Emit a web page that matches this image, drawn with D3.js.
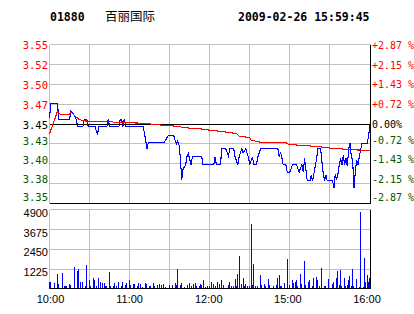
<!DOCTYPE html>
<html><head><meta charset="utf-8">
<script src="https://cdn.jsdelivr.net/npm/d3@7"></script>
<style>html,body{margin:0;padding:0;background:#fff;}svg{display:block;}</style>
</head><body>
<script>
// ---- data ----
const stockCode = "01880";
const stockName = "百丽国际";
const stamp = "2009-02-26 15:59:45";
const prevClose = 3.45;
const pctTicks = [2.87, 2.15, 1.43, 0.72, 0, -0.72, -1.43, -2.15, -2.87];
const priceLabels = ["3.55","3.52","3.50","3.47","3.45","3.43","3.40","3.38","3.35"];
const pctLabels = ["+2.87 %","+2.15 %","+1.43 %","+0.72 %"," 0.00%","-0.72 %","-1.43 %","-2.15 %","-2.87 %"];
const volTicks = [4900, 3675, 2450, 1225];
const timeTicks = [0, 60, 120, 180, 240];
const timeLabels = ["10:00","11:00","12:00","15:00","16:00"];
// [minute since open, price]
const pricePts = [[0,3.457],[1,3.476],[6,3.476],[7,3.456],[15,3.456],[16,3.466],[18,3.462],[20,3.456],[21,3.447],[25,3.447],[26,3.455],[28,3.455],[29,3.447],[34,3.447],[36,3.437],[37,3.447],[43,3.447],[44,3.456],[45,3.447],[52,3.447],[53,3.456],[54,3.456],[55,3.447],[56,3.456],[57,3.447],[70,3.447],[71,3.440],[72,3.430],[73,3.419],[74,3.427],[86,3.427],[89,3.436],[93,3.436],[94,3.430],[95,3.425],[96,3.429],[97,3.424],[98,3.408],[99,3.380],[100,3.394],[102,3.399],[103,3.410],[104,3.413],[106,3.399],[107,3.409],[114,3.409],[115,3.399],[123,3.399],[124,3.409],[125,3.399],[128,3.399],[129,3.419],[132,3.419],[134,3.410],[135,3.419],[138,3.419],[139,3.409],[141,3.399],[142,3.409],[144,3.419],[145,3.414],[147,3.419],[149,3.408],[150,3.399],[152,3.409],[153,3.399],[155,3.399],[156,3.409],[158,3.419],[171,3.419],[172,3.409],[173,3.415],[174,3.408],[175,3.399],[177,3.399],[178,3.390],[180,3.390],[182,3.399],[185,3.399],[187,3.390],[188,3.395],[189,3.399],[190,3.390],[191,3.407],[192,3.393],[193,3.379],[195,3.379],[196,3.386],[197,3.379],[198,3.388],[199,3.397],[200,3.407],[201,3.419],[203,3.419],[204,3.403],[205,3.388],[206,3.379],[207,3.386],[208,3.379],[212,3.379],[213,3.370],[214,3.388],[215,3.380],[216,3.388],[217,3.399],[218,3.407],[219,3.399],[220,3.411],[221,3.399],[222,3.407],[223,3.397],[224,3.418],[225,3.426],[226,3.409],[227,3.405],[228,3.370],[229,3.390],[230,3.405],[231,3.399],[232,3.409],[233,3.418],[234,3.426],[238,3.426],[239,3.436],[240,3.449]];
const avgPts = [[0,3.4375],[6,3.466],[8,3.462],[15,3.462],[16,3.465],[19,3.460],[22,3.456],[25,3.454],[34,3.453],[45,3.453],[50,3.452],[70,3.451],[81,3.449],[90,3.448],[95,3.447],[104,3.445],[113,3.444],[119,3.4425],[132,3.440],[140,3.438],[142,3.435],[150,3.433],[151,3.430],[157,3.4275],[177,3.4267],[179,3.4245],[200,3.422],[210,3.420],[225,3.418],[232,3.4175],[240,3.4167]];
const volPts = [[0,450],[1,450],[4,370],[6,890],[7,310],[10,1010],[11,200],[12,200],[13,200],[15,280],[16,250],[19,1320],[21,1090],[22,1200],[23,450],[25,450],[27,150],[28,1450],[30,560],[31,150],[33,700],[34,520],[35,200],[37,700],[38,410],[40,370],[41,370],[42,150],[43,200],[45,1070],[46,150],[48,150],[49,350],[50,150],[52,450],[54,200],[55,450],[57,270],[58,350],[60,520],[61,250],[63,310],[64,310],[66,200],[67,350],[68,310],[70,100],[72,390],[73,310],[75,200],[76,200],[78,350],[79,200],[81,250],[82,310],[84,250],[85,310],[87,100],[90,250],[92,250],[94,350],[95,250],[96,1200],[98,250],[99,350],[101,100],[103,250],[105,390],[106,170],[108,310],[109,350],[110,150],[112,150],[113,310],[114,250],[115,520],[117,145],[118,200],[120,200],[121,410],[123,310],[124,165],[126,410],[127,310],[129,520],[130,270],[134,270],[135,410],[136,200],[138,165],[139,580],[140,165],[141,930],[142,2010],[144,310],[145,660],[146,200],[147,310],[148,165],[150,200],[151,4000],[152,270],[153,1510],[154,165],[156,200],[158,830],[159,270],[161,310],[162,165],[164,580],[165,250],[168,165],[170,250],[171,680],[172,830],[173,165],[174,200],[176,370],[178,1860],[180,250],[182,520],[183,350],[184,455],[185,520],[186,200],[188,930],[189,310],[191,1700],[192,250],[194,455],[195,520],[197,165],[198,660],[200,720],[201,520],[202,200],[204,1280],[206,200],[207,165],[209,580],[212,310],[213,410],[215,700],[216,1075],[217,250],[218,1140],[219,200],[221,660],[222,165],[223,250],[224,560],[225,765],[226,200],[227,1200],[228,165],[230,580],[232,145],[233,4710],[235,100],[236,1900],[237,410],[238,870],[239,455],[240,660]];

// ---- drawing ----
const W = 414, H = 314;
const svg = d3.select("body").append("svg").attr("width", W).attr("height", H);
const lo = prevClose * (1 - 2.87 / 100), hi = prevClose * (1 + 2.87 / 100);
const x = d3.scaleLinear().domain([0, 240]).range([49.5, 370]);
const y = d3.scaleLinear().domain([lo, hi]).range([203.3, 44.7]);
const vy = d3.scaleLinear().domain([0, 4900]).range([288.9, 209.4]);
const px = v => Math.floor(v) + 0.5;
const GRID = "#c0c0c0";
const mono = "'DejaVu Sans Mono', monospace";
const sans = "'Liberation Sans', Arial, sans-serif";
const RED = "#ff0000", GREEN = "#005a00";

const left = px(x(0)), right = px(x(240));
const pTop = px(y(hi)), pBot = px(y(lo));
const vTop = px(vy(4900)), vBot = px(vy(0));

const g = svg.append("g").attr("shape-rendering", "crispEdges");
// vertical grid
const vMins = d3.range(0, 240, 30);
g.selectAll(".vg1").data(vMins).enter().append("line")
  .attr("x1", d => px(x(d))).attr("x2", d => px(x(d)))
  .attr("y1", pTop).attr("y2", pBot).attr("stroke", GRID);
g.selectAll(".vg2").data(vMins).enter().append("line")
  .attr("x1", d => px(x(d))).attr("x2", d => px(x(d)))
  .attr("y1", vTop).attr("y2", vBot).attr("stroke", GRID);
// horizontal price grid
g.selectAll(".hg").data(pctTicks.filter(p => p !== 0 && p !== -2.87)).enter().append("line")
  .attr("x1", left).attr("x2", right)
  .attr("y1", d => px(y(prevClose * (1 + d / 100)))).attr("y2", d => px(y(prevClose * (1 + d / 100))))
  .attr("stroke", GRID);
// volume grid
g.selectAll(".vhg").data(volTicks).enter().append("line")
  .attr("x1", left).attr("x2", right)
  .attr("y1", d => px(vy(d))).attr("y2", d => px(vy(d))).attr("stroke", GRID);

// volume bars
g.selectAll(".bar").data(volPts).enter().append("rect")
  .attr("x", d => Math.min(Math.floor(x(d[0])), Math.floor(right) - 1))
  .attr("width", 1)
  .attr("y", d => Math.round(vy(d[1])))
  .attr("height", d => Math.floor(vBot) - Math.round(vy(d[1])) + 1)
  .attr("fill", "#0000ff");

// black lines
const ref = px(y(prevClose));
[[left, ref, right, ref], [left, pBot, right, pBot], [left, vBot, right, vBot],
 [right, pTop, right, pBot], [right, vTop, right, vBot]].forEach(l => {
  g.append("line").attr("x1", l[0]).attr("y1", l[1]).attr("x2", l[2]).attr("y2", l[3]).attr("stroke", "#000");
});

// lines
const line = d3.line().x(d => x(d[0])).y(d => y(d[1]));
svg.append("path").datum(pricePts).attr("d", line).attr("fill", "none")
  .attr("stroke", "#0000ff").attr("stroke-width", 1.1).attr("shape-rendering", "crispEdges");
svg.append("path").datum(avgPts).attr("d", line).attr("fill", "none")
  .attr("stroke", RED).attr("stroke-width", 1.1).attr("shape-rendering", "crispEdges");

// price & pct labels
const lblColor = p => p > 0 ? RED : (p < 0 ? GREEN : "#000");
const lblY = (p, i) => {
  const gy = y(prevClose * (1 + p / 100));
  if (p >= 0) return gy + 0.5;
  return gy - 3 - (i === pctTicks.length - 1 ? 3 : (i - 5) * 0.6);
};
svg.selectAll(".pl").data(pctTicks).enter().append("text")
  .attr("x", 48).attr("y", (d, i) => lblY(d, i))
  .attr("text-anchor", "end").attr("dominant-baseline", "central")
  .attr("font-family", mono).attr("font-size", 10.5)
  .attr("fill", d => lblColor(d)).text((d, i) => priceLabels[i]);
svg.selectAll(".rl").data(pctTicks).enter().append("text")
  .attr("x", 372).attr("y", (d, i) => lblY(d, i))
  .attr("text-anchor", "start").attr("dominant-baseline", "central")
  .attr("font-family", mono).attr("font-size", 10)
  .attr("fill", d => lblColor(d)).text((d, i) => pctLabels[i]);

// volume labels
svg.selectAll(".vl").data(volTicks).enter().append("text")
  .attr("x", 48).attr("y", d => vy(d) + 3.3)
  .attr("text-anchor", "end").attr("dominant-baseline", "central")
  .attr("font-family", sans).attr("font-size", 11).attr("fill", "#000").text(d => d);

// time labels
svg.selectAll(".tl").data(timeTicks).enter().append("text")
  .attr("x", (d, i) => x(d) + 1 - i).attr("y", 298.5)
  .attr("text-anchor", "middle").attr("dominant-baseline", "central")
  .attr("font-family", sans).attr("font-size", 11).attr("fill", "#000").text((d, i) => timeLabels[i]);

// title
svg.append("text").attr("x", 50).attr("y", 20.5).attr("font-family", mono).attr("font-weight", "bold")
  .attr("font-size", 11.5).attr("fill", "#000").text(stockCode);
svg.append("text").attr("x", 105).attr("y", 20.5).attr("font-family", "'Noto Sans CJK SC', sans-serif")
  .attr("font-size", 12.5).attr("fill", "#000").text(stockName);
svg.append("text").attr("x", 238).attr("y", 20.5).attr("font-family", mono).attr("font-weight", "bold")
  .attr("font-size", 11.5).attr("fill", "#000").text(stamp);
</script>
</body></html>
